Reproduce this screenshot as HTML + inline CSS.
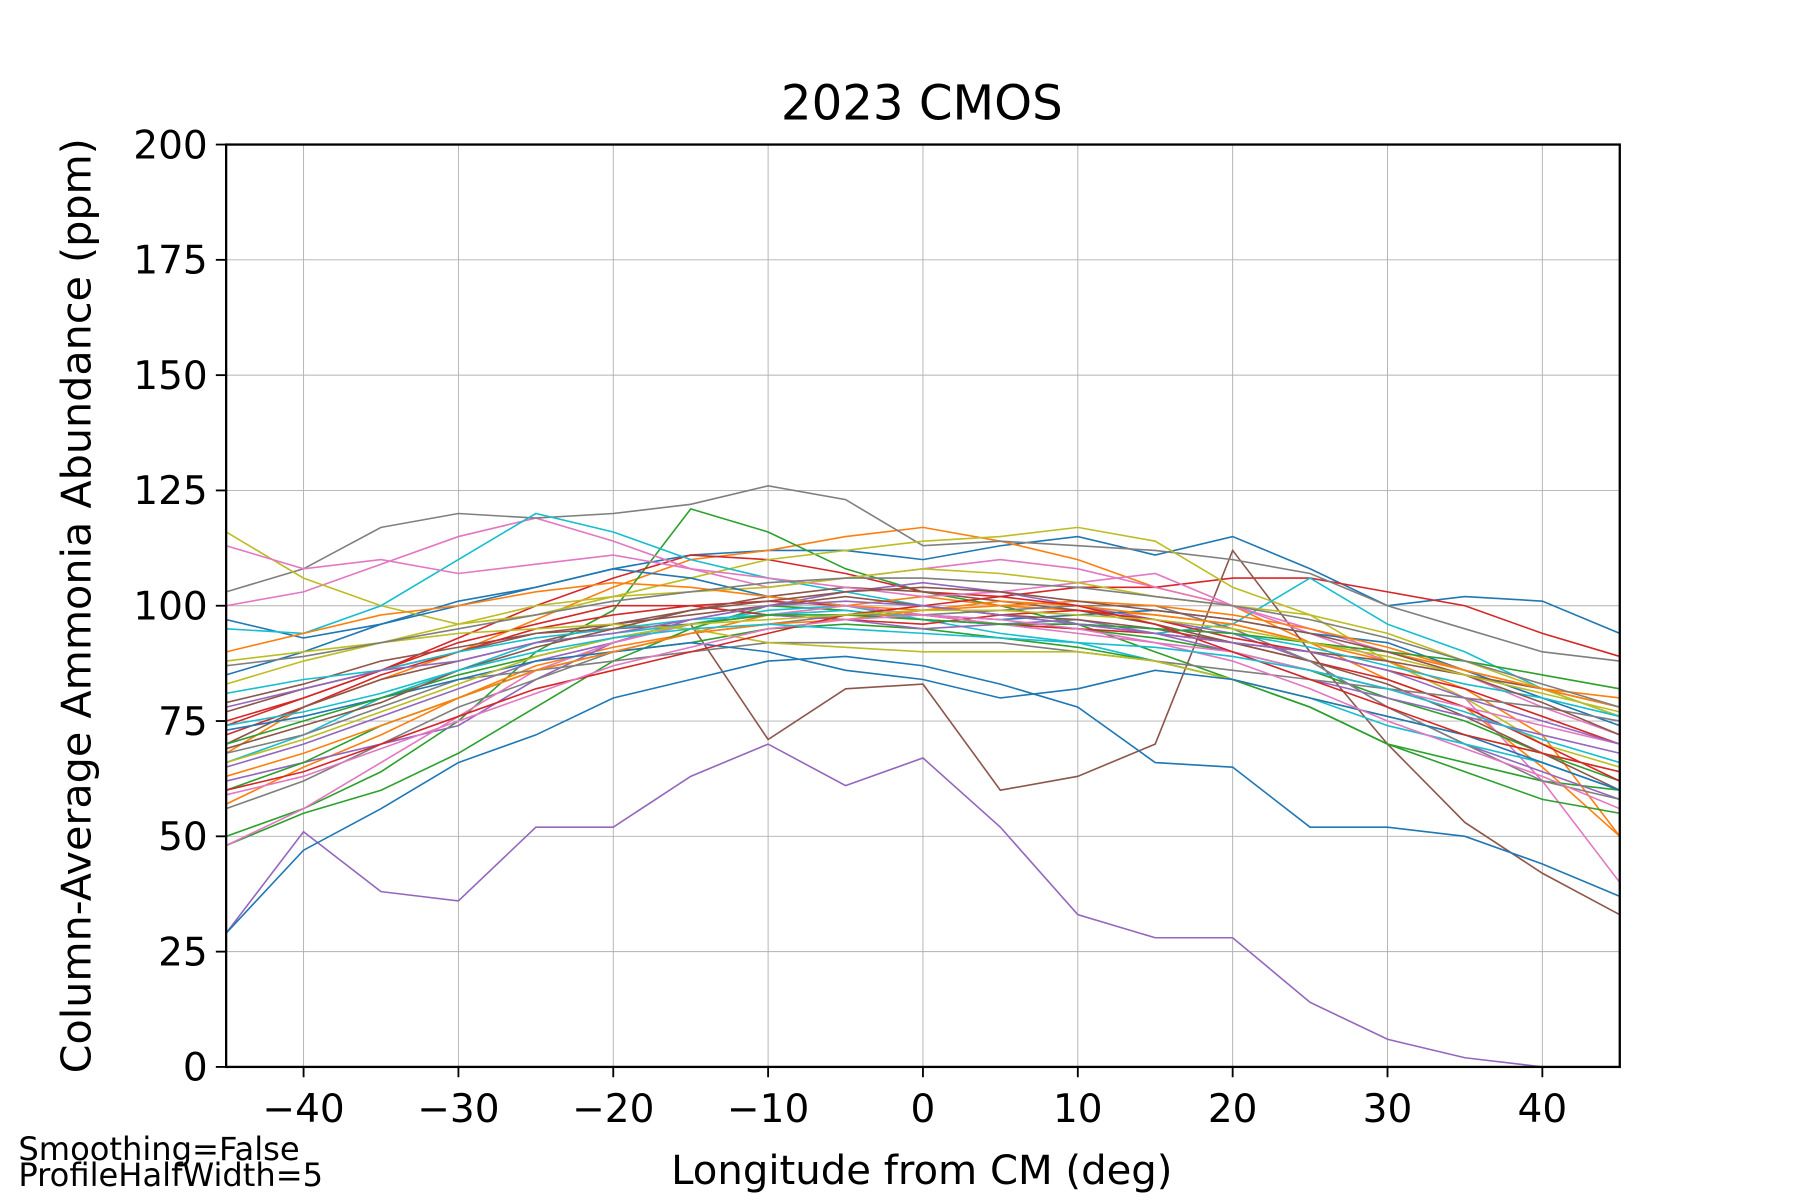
<!DOCTYPE html>
<html><head><meta charset="utf-8"><style>
html,body{margin:0;padding:0;background:#fff;}
svg{display:block;font-family:"DejaVu Sans","Liberation Sans",sans-serif;}
</style></head><body>
<svg id="chart" width="1800" height="1200" viewBox="0 0 1568 1046" preserveAspectRatio="none" xmlns="http://www.w3.org/2000/svg">
<rect width="1568" height="1046" fill="#fff"/>
<g id="grid"></g>
<g id="lines"></g>
<rect x="197" y="126" width="1214" height="804" fill="none" stroke="#000" stroke-width="2"/>
<g id="ticks"></g>
<text x="803" y="104" font-size="42" text-anchor="middle">2023 CMOS</text>
<text x="803" y="1032" font-size="35" text-anchor="middle">Longitude from CM (deg)</text>
<text transform="translate(79,528) rotate(-90)" font-size="36" text-anchor="middle">Column-Average Ammonia Abundance (ppm)</text>
<text x="16" y="1011" font-size="28">Smoothing=False</text>
<text x="16" y="1034" font-size="28">ProfileHalfWidth=5</text>
</svg>
<script>
const lons=[-45,-40,-35,-30,-25,-20,-15,-10,-5,0,5,10,15,20,25,30,35,40,45];
const xTicks=[-40,-30,-20,-10,0,10,20,30,40];
const yTicks=[0,25,50,75,100,125,150,175,200];
const colors=["#1f77b4","#ff7f0e","#2ca02c","#d62728","#9467bd","#8c564b","#e377c2","#7f7f7f","#bcbd22","#17becf"];
const s1=[97,93,96,101,104,108,111,112,112,110,113,115,111,115,108,100,102,101,94];
const s2=[68,78,84,90,97,104,110,112,115,117,114,110,104,100,92,84,78,65,50];
const s3=[50,56,64,75,90,99,121,116,108,103,100,96,90,84,78,70,66,62,60];
const s4=[75,80,86,93,100,106,111,110,107,103,102,104,104,106,106,103,100,94,89];
const s5=[29,51,38,36,52,52,63,70,61,67,52,33,28,28,14,6,2,0,null];
const s6=[79,83,88,91,94,95,96,71,82,83,60,63,70,112,90,70,53,42,33];
const s7=[100,103,109,115,119,114,108,104,106,108,110,108,104,100,94,88,80,62,40];
const s8=[103,108,117,120,119,120,122,126,123,113,114,113,112,110,107,100,95,90,88];
const s9=[116,106,100,96,98,102,106,110,112,114,115,117,114,104,98,88,80,70,65];
const s10=[95,94,100,110,120,116,110,106,103,100,98,96,94,96,106,96,90,82,76];
const s11=[29,47,56,66,72,80,84,88,89,87,83,78,66,65,52,52,50,44,37];
const s12=[57,65,72,80,87,91,94,98,100,102,100,99,98,96,92,88,82,72,50];
const s13=[48,55,60,68,78,88,95,100,99,97,96,95,93,90,86,80,75,68,62];
const s14=[72,78,85,90,95,98,100,101,100,98,96,95,94,92,88,84,78,70,62];
const s15=[62,66,70,74,84,92,97,100,103,105,103,100,97,94,88,78,70,64,58];
const s16=[70,78,84,88,92,96,99,102,104,103,101,99,96,92,88,83,76,68,60];
const s17=[113,108,110,107,109,111,108,106,104,102,103,105,107,100,95,90,85,78,72];
const s18=[56,62,70,78,84,90,94,96,98,98,99,100,100,95,88,78,70,62,58];
const s19=[83,88,92,96,100,102,103,104,106,108,107,105,102,100,98,94,88,82,76];
const s20=[66,72,80,86,92,94,96,99,100,97,94,92,88,84,80,74,70,66,60];
const s21=[85,90,96,100,104,108,106,102,100,98,97,98,99,97,94,92,86,80,74];
const s22=[90,94,98,100,103,105,104,102,100,99,100,101,100,98,95,91,86,82,80];
const s23=[60,66,74,80,86,90,92,95,96,95,93,91,88,84,78,70,64,58,55];
const s24=[74,80,86,92,96,100,100,98,97,96,98,99,97,93,90,86,82,76,70];
const s25=[65,70,76,82,88,92,96,98,97,95,96,97,94,90,84,80,76,72,68];
const s26=[77,82,86,90,94,96,98,100,102,100,98,97,95,92,90,88,85,82,78];
const s27=[48,56,66,76,86,92,96,98,100,98,96,94,92,90,86,82,78,74,70];
const s28=[68,72,78,84,86,88,90,92,92,92,92,90,88,86,84,82,80,78,75];
const s29=[88,90,92,94,95,96,95,92,91,90,90,90,88,84,80,76,72,68,64];
const s30=[81,84,86,90,93,95,97,98,99,97,96,96,95,94,91,87,83,80,76];
const s31=[73,76,80,84,88,90,92,90,86,84,80,82,86,84,80,76,72,66,60];
const s32=[63,68,74,80,86,90,94,96,97,99,101,100,98,96,92,90,86,82,78];
const s33=[70,75,80,85,89,93,96,98,98,97,96,96,95,94,92,90,88,85,82];
const s34=[60,64,70,76,82,86,90,94,98,100,102,100,96,90,84,78,72,68,64];
const s35=[78,82,86,88,92,94,97,100,101,100,98,96,94,92,90,86,80,75,70];
const s36=[69,74,79,86,91,95,99,101,103,104,103,101,99,97,94,90,85,79,72];
const s37=[59,63,69,75,81,87,91,95,97,98,97,95,92,88,82,75,69,63,56];
const s38=[87,89,92,95,98,101,103,105,106,106,105,104,102,100,97,93,88,83,78];
const s39=[66,71,77,83,89,93,96,97,98,99,99,98,97,95,92,89,85,81,77];
const s40=[74,77,81,86,90,93,95,96,95,94,93,92,91,89,86,82,77,71,66];
const series=[s1,s2,s3,s4,s5,s6,s7,s8,s9,s10,s11,s12,s13,s14,s15,s16,s17,s18,s19,s20,s21,s22,s23,s24,s25,s26,s27,s28,s29,s30,s31,s32,s33,s34,s35,s36,s37,s38,s39,s40];
const NS="http://www.w3.org/2000/svg";
const L=197,R=1411,T=126,B=930;
function xs(v){return L+(v+45)/90*(R-L);}
function ys(v){return B-v/200*(B-T);}
const grid=document.getElementById('grid'),ticks=document.getElementById('ticks'),lines=document.getElementById('lines');
function mk(tag,attrs,parent){const e=document.createElementNS(NS,tag);for(const k in attrs)e.setAttribute(k,attrs[k]);parent.appendChild(e);return e;}
xTicks.forEach(t=>{
  const g=mk('line',{x1:xs(t),x2:xs(t),y1:T,y2:B,stroke:'#b0b0b0','stroke-width':0.8},grid);
  
  
  const tk=mk('line',{x1:xs(t),x2:xs(t),y1:B,y2:B+9,stroke:'#000','stroke-width':1.6},ticks);
  
  
  const tx=mk('text',{x:xs(t),y:B+48,'font-size':34,'text-anchor':'middle'},ticks);
  tx.textContent=(t<0?'\u2212'+(-t):String(t));
  
  
});
yTicks.forEach(t=>{
  const g=mk('line',{x1:L,x2:R,y1:ys(t),y2:ys(t),stroke:'#b0b0b0','stroke-width':0.8},grid);
  
  
  const tk=mk('line',{x1:L-9,x2:L,y1:ys(t),y2:ys(t),stroke:'#000','stroke-width':1.6},ticks);
  
  
  const tx=mk('text',{x:L-16,y:ys(t)+12,'font-size':34,'text-anchor':'end'},ticks);
  tx.textContent=String(t);
  
  
});
series.forEach((s,i)=>{
  let d='';
  s.forEach((v,j)=>{if(v===null)return;d+=(d?'L':'M')+xs(lons[j]).toFixed(1)+','+ys(v).toFixed(1);});
  const p=mk('path',{d:d,fill:'none',stroke:colors[i%10],'stroke-width':1.4},lines);
  
  
});
</script>
</body></html>
